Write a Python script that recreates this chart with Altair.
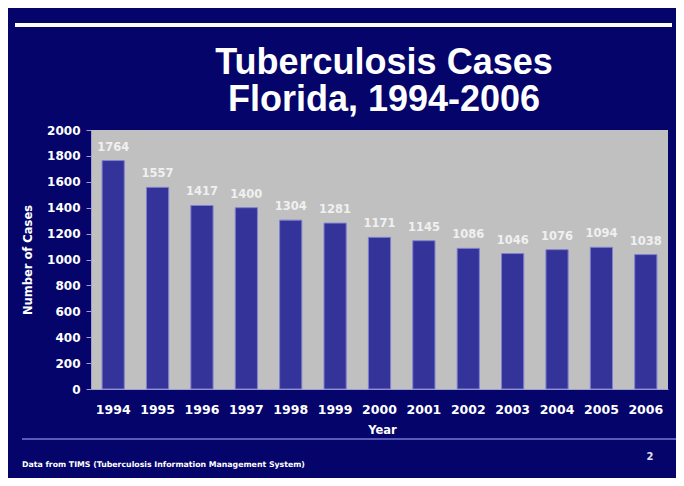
import altair as alt
import pandas as pd

years = ["1994", "1995", "1996", "1997", "1998", "1999", "2000",
         "2001", "2002", "2003", "2004", "2005", "2006"]
cases = [1764, 1557, 1417, 1400, 1304, 1281, 1171, 1145, 1086, 1046, 1076, 1094, 1038]
y_ticks = [0, 200, 400, 600, 800, 1000, 1200, 1400, 1600, 1800, 2000]

title_lines = ["Tuberculosis Cases", "Florida, 1994-2006"]
footer = "Data from TIMS (Tuberculosis Information Management System)"
page_no = "2"

NAVY = "#04046a"
df = pd.DataFrame({"Year": years, "Cases": cases})

W, H = 577, 259

x_enc = alt.X("Year:N", sort=years,
              scale=alt.Scale(paddingInner=0.5, paddingOuter=0.25),
              axis=alt.Axis(title="Year", labelAngle=0, ticks=False,
                            labelPadding=14, titleX=291, titleY=41,
                            labelFontSize=12.5, labelOverlap=False,
                            titleBaseline="middle"))
y_enc = alt.Y("Cases:Q", scale=alt.Scale(domain=[0, 2000], nice=False),
              axis=alt.Axis(title="Number of Cases", values=y_ticks, grid=False,
                            format="d", labelOverlap=False, labelFontSize=12,
                            tickSize=5, labelPadding=6, titleX=-63, titleY=129.5,
                            titleBaseline="middle"))

bars = alt.Chart(df).mark_bar(color="#333399", stroke="#8080d0", strokeWidth=1).encode(
    x=x_enc, y=y_enc)

labels = alt.Chart(df).mark_text(color="#f0f0f0", font="DejaVu Sans", fontWeight="bold",
                                 fontSize=11.5, baseline="middle", dy=-13).encode(
    x=x_enc, y=y_enc, text="Cases:Q")

deco = pd.DataFrame({"a": [0]})

top_line = alt.Chart(deco).mark_rule(color="#ffffff", strokeWidth=4).encode(
    x=alt.value(15 - 91), x2=alt.value(672 - 91), y=alt.value(25 - 130))
bottom_line = alt.Chart(deco).mark_rule(color="#5a5ab8", strokeWidth=2).encode(
    x=alt.value(22 - 91), x2=alt.value(677 - 91), y=alt.value(439 - 130))

title_layers = []
for line, base_y in zip(title_lines, [74, 111]):
    title_layers.append(
        alt.Chart(pd.DataFrame({"t": [line]})).mark_text(
            font="Liberation Sans", fontWeight="bold", fontSize=36, color="#ffffff",
            align="center", baseline="alphabetic").encode(
            x=alt.value(384 - 91), y=alt.value(base_y - 130), text="t:N"))

foot = alt.Chart(pd.DataFrame({"t": [footer]})).mark_text(
    font="DejaVu Sans", fontWeight="bold", fontSize=7.8, color="#ffffff",
    align="left", baseline="middle").encode(
    x=alt.value(22 - 91), y=alt.value(465 - 130), text="t:N")
pno = alt.Chart(pd.DataFrame({"t": [page_no]})).mark_text(
    font="DejaVu Sans", fontWeight="bold", fontSize=10, color="#e0e0f0",
    align="center", baseline="middle").encode(
    x=alt.value(650 - 91), y=alt.value(457 - 130), text="t:N")

chart = alt.layer(bars, labels, top_line, bottom_line, *title_layers, foot, pno).properties(
    width=W, height=H,
    background=NAVY,
    padding={"left": 83, "top": 122, "right": 8, "bottom": 89},
    autosize=alt.AutoSizeParams(type="none"),
).configure_view(
    fill="#c0c0c0", stroke=None
).configure_axis(
    labelColor="#ffffff", labelFont="DejaVu Sans", labelFontWeight="bold", labelFontSize=11,
    titleColor="#ffffff", titleFont="DejaVu Sans", titleFontWeight="bold", titleFontSize=11.5,
    domainColor="#a0a0d0", tickColor="#a0a0d0", domainWidth=1,
)

chart.save("out.html", embed_options={"renderer": "svg", "actions": False})
